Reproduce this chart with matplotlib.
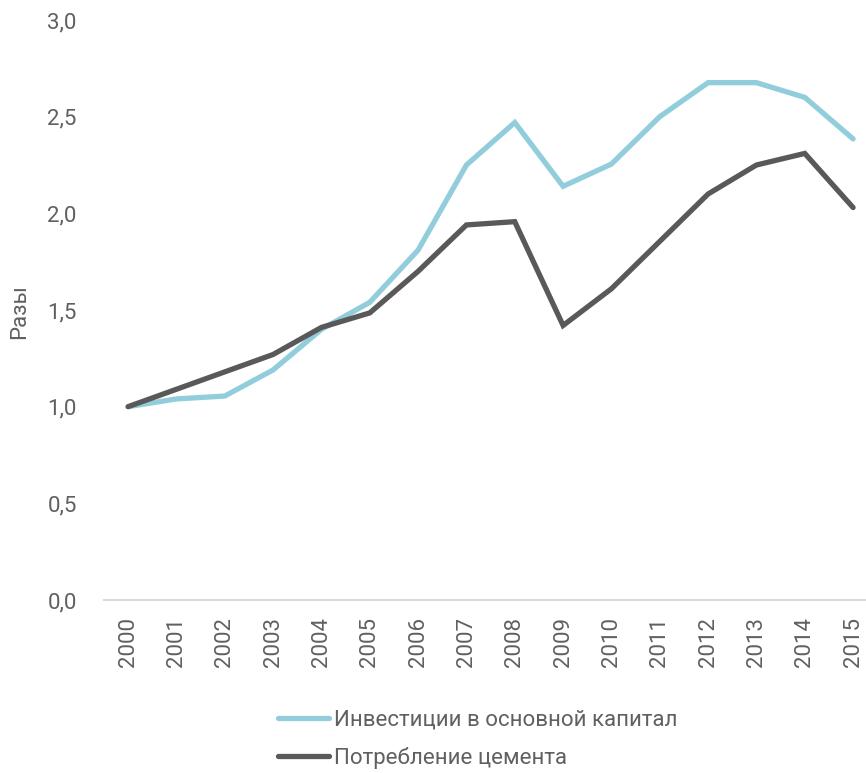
import numpy as np
from matplotlib import pyplot as plt

plt.rcParams['font.family'] = ['Roboto', 'DejaVu Sans']
plt.rcParams['font.weight'] = 'normal'

years = [str(y) for y in range(2000, 2016)]
investment = [1.00, 1.04, 1.055, 1.19, 1.40, 1.54, 1.81, 2.25, 2.47, 2.14,
              2.255, 2.50, 2.676, 2.676, 2.60, 2.385]
cement = [1.00, 1.09, 1.18, 1.27, 1.41, 1.485, 1.70, 1.94, 1.957, 1.42,
          1.61, 1.855, 2.10, 2.25, 2.31, 2.03]
yticks = [0.0, 0.5, 1.0, 1.5, 2.0, 2.5, 3.0]

text_color = '#606060'

fig = plt.figure(figsize=(8.66, 7.73), dpi=100)
ax = fig.add_axes([0.12, 0.2238, 0.893, 0.7503])

x = np.arange(len(years))
ax.plot(x, investment, color='#92CDDC', lw=3.8, solid_capstyle='round',
        solid_joinstyle='miter', label='Инвестиции в основной капитал')
ax.plot(x, cement, color='#595959', lw=3.8, solid_capstyle='round',
        solid_joinstyle='miter', label='Потребление цемента')

ax.set_xlim(-0.5, len(years) - 0.5)
ax.set_ylim(0, 3.0)
ax.set_xticks(x)
ax.set_xticklabels(years, rotation=90)
ax.set_yticks(yticks)
ax.set_yticklabels([f'{v:.1f}'.replace('.', ',') for v in yticks])
ax.tick_params(length=0, labelsize=16, labelcolor=text_color)
ax.tick_params(axis='y', pad=19.5)
ax.tick_params(axis='x', pad=12)
for side in ['top', 'right', 'left']:
    ax.spines[side].set_visible(False)
ax.spines['bottom'].set_color('#d9d9d9')
ax.spines['bottom'].set_linewidth(1.5)
ax.set_ylabel('Разы', fontsize=16, color=text_color)
ax.yaxis.set_label_coords(-0.096, 0.497)

fig.legend(loc='upper left', bbox_to_anchor=(0.298, 0.108),
           frameon=False, fontsize=16, handlelength=2.3,
           handletextpad=0.2, labelspacing=0.75, labelcolor=text_color)

fig.savefig('out.png', dpi=100)
